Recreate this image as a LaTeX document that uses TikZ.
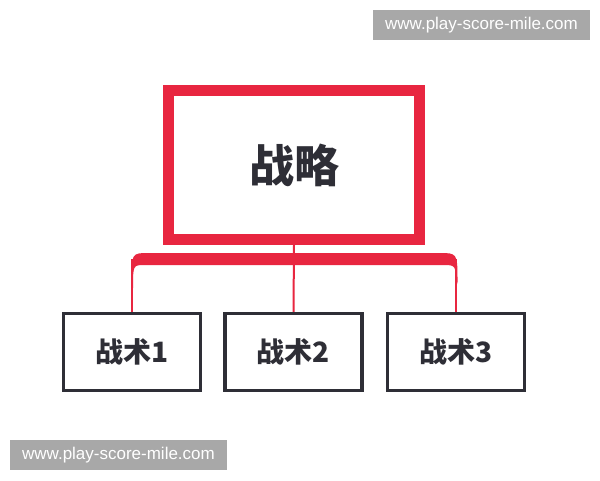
\documentclass[tikz,border=0pt]{standalone}
\usepackage{fontspec}
\usepackage{tikz}
\setmainfont{Liberation Sans}
\newfontfamily\cjk{Noto Sans CJK SC}
\definecolor{stratred}{RGB}{232,38,64}
\definecolor{boxgray}{RGB}{46,46,54}
\definecolor{markgray}{RGB}{168,168,168}

\begin{document}
\begin{tikzpicture}[x=1pt, y=-1pt,
                    main node/.style={draw=stratred,line width=11pt,minimum width=251pt,minimum height=149pt,
                                      font=\cjk\bfseries\fontsize{45}{50}\selectfont,text=boxgray},
                    tactic node/.style={draw=boxgray,line width=3.5pt,minimum width=137pt,minimum height=77pt,
                                        font=\cjk\bfseries\fontsize{28}{32}\selectfont,text=boxgray},
                    link/.style={stratred,line width=2pt},
                    mark node/.style={fill=markgray,text=white,minimum width=217pt,minimum height=30pt,
                                      inner sep=0pt,font=\fontsize{17}{20}\selectfont}]
  \useasboundingbox[fill=white] (0,0) rectangle (600,480);

  \node[main node] (s) at (294,165) {战略};
  \node[tactic node] (t1) at (132,352) {战术1};
  \node[tactic node] (t2) at (293.5,352) {战术2};
  \node[tactic node] (t3) at (456,352) {战术3};

  \coordinate (bus) at (293.5,259);

  % bar
  \fill[stratred] (131.5,282) .. controls (131.5,253) .. (149,253) -- (439,253)
    .. controls (457.5,253) .. (457.5,282) -- (456,288) .. controls (456,265) .. (443,265)
    -- (145,265) .. controls (133,265) .. (133,288) -- cycle;

  \draw[link] (s.south) -- (t2.north);
  \draw[link] (t1.north) -- (t1.north |- bus);
  \draw[link] (t3.north) -- (t3.north |- bus);

  \node[mark node] (m1) at (481.5,25) {www.play-score-mile.com};
  \node[mark node] (m2) at (118.5,455) {www.play-score-mile.com};
\end{tikzpicture}
\end{document}
